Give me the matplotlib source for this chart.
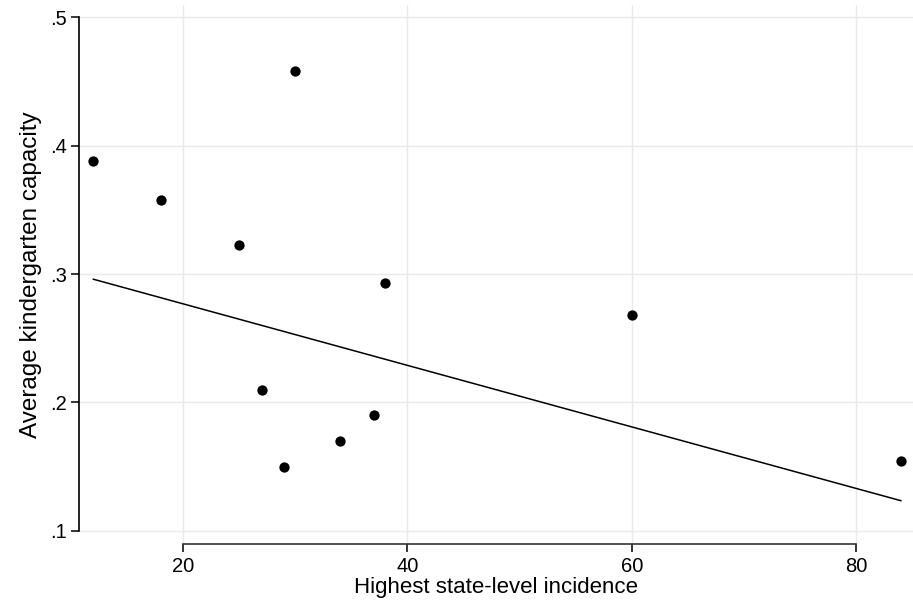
import numpy as np
import matplotlib
matplotlib.use("Agg")
from matplotlib import pyplot as plt

plt.rcParams['font.family'] = ['Liberation Sans', 'DejaVu Sans']

# scatter data
incidence = [12, 18, 25, 30, 38, 60, 84, 27, 29, 34, 37]
capacity = [0.388, 0.358, 0.323, 0.458, 0.293, 0.268, 0.154, 0.210, 0.150, 0.170, 0.190]

# fitted line end points
fit_x = [12, 84]
fit_y = [0.296, 0.1234]

x_ticks = [20, 40, 60, 80]
y_ticks = [0.1, 0.2, 0.3, 0.4, 0.5]
y_tick_labels = ['.1', '.2', '.3', '.4', '.5']

fig = plt.figure(figsize=(9.13, 6.04), dpi=100)
ax = fig.add_axes([0.0869, 0.0988, 1 - 0.0869, 0.9917 - 0.0988])

ax.scatter(incidence, capacity, s=55, color='black', zorder=3, linewidths=0)
ax.plot(fit_x, fit_y, color='black', linewidth=1.1, zorder=2)

ax.set_xlim(10.75, 85.08)
ax.set_ylim(0.0894, 0.5097)
ax.set_xticks(x_ticks)
ax.set_yticks(y_ticks)
ax.set_yticklabels(y_tick_labels)

ax.grid(True, color='#eaeaea', linewidth=1.0, zorder=0)
ax.set_axisbelow(True)

for side in ['top', 'right']:
    ax.spines[side].set_visible(False)
ax.spines['left'].set_bounds(0.1, 0.5)
ax.spines['bottom'].set_bounds(20, 80)
ax.spines['left'].set_linewidth(1.2)
ax.spines['bottom'].set_linewidth(1.2)
ax.spines['bottom'].set_color('#333333')

ax.tick_params(axis='both', direction='out', length=6, width=1.1, labelsize=14.5, colors='black')
ax.tick_params(axis='y', pad=3)
ax.tick_params(axis='x', pad=3)

ax.set_xlabel('Highest state-level incidence', fontsize=16, labelpad=1)
ax.set_ylabel('Average kindergarten capacity', fontsize=17.5, labelpad=6)

fig.savefig('out.png', dpi=100)
